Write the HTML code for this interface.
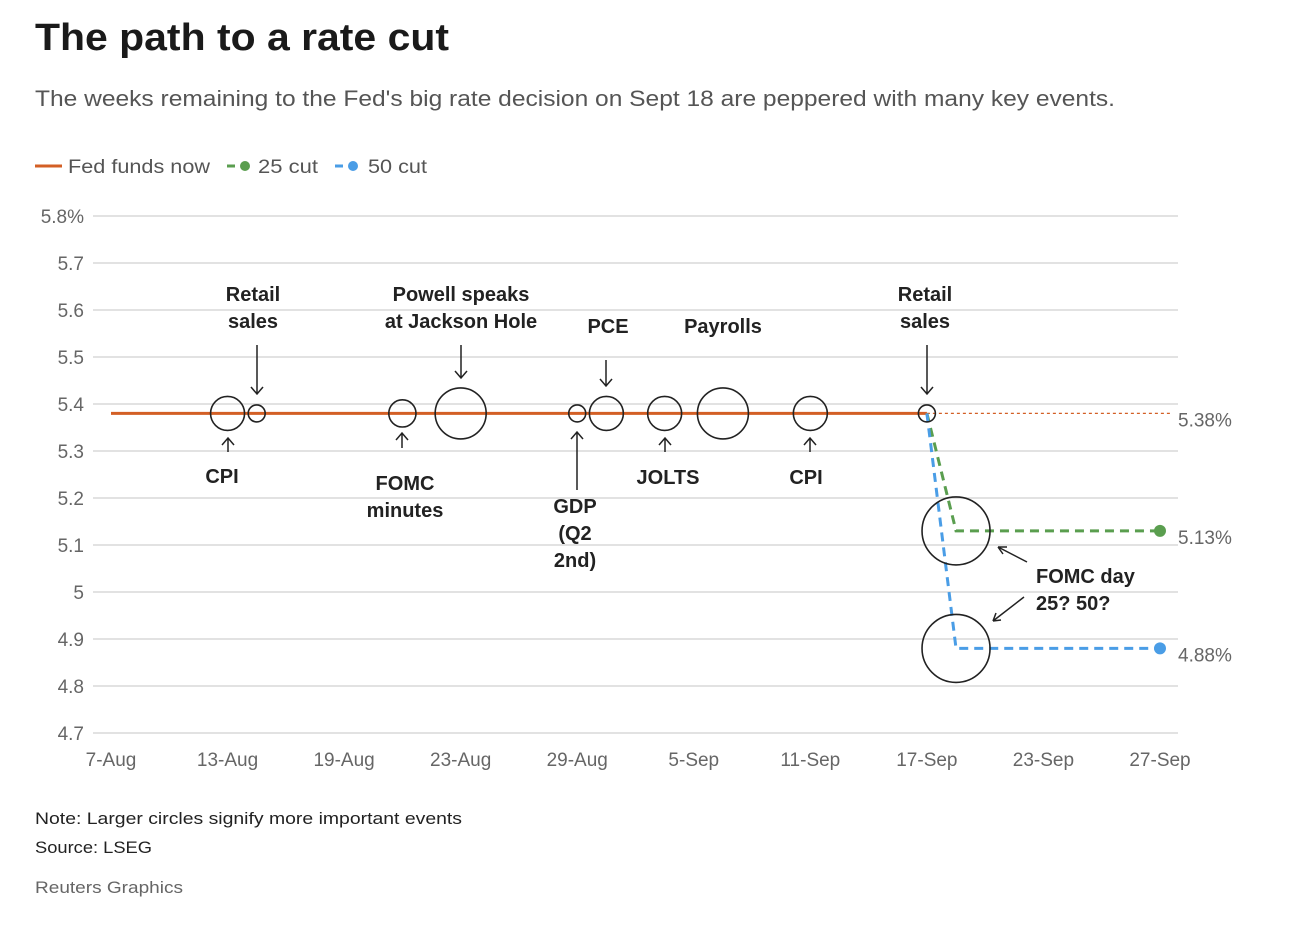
<!DOCTYPE html>
<html><head><meta charset="utf-8">
<style>
body{margin:0;background:#fff;width:1292px;height:922px;overflow:hidden;font-family:"Liberation Sans",sans-serif}
svg text{font-family:"Liberation Sans",sans-serif}
</style></head>
<body>
<svg id="c" width="1292" height="922">
<text x="35" y="50" font-size="38" font-weight="bold" fill="#1a1a1a" textLength="414" lengthAdjust="spacingAndGlyphs">The path to a rate cut</text>
<text x="35" y="106" font-size="22" fill="#555" textLength="1080" lengthAdjust="spacingAndGlyphs">The weeks remaining to the Fed's big rate decision on Sept 18 are peppered with many key events.</text>
<g>
<line x1="35" y1="166" x2="62" y2="166" stroke="#d35f25" stroke-width="3"/>
<text x="68" y="173" font-size="19" fill="#555" textLength="142" lengthAdjust="spacingAndGlyphs">Fed funds now</text>
<line x1="227" y1="166" x2="235" y2="166" stroke="#5a9e4f" stroke-width="3"/>
<circle cx="245" cy="166" r="5" fill="#5a9e4f"/>
<text x="258" y="173" font-size="19" fill="#555" textLength="60" lengthAdjust="spacingAndGlyphs">25 cut</text>
<line x1="335" y1="166" x2="343" y2="166" stroke="#4a9de6" stroke-width="3"/>
<circle cx="353" cy="166" r="5" fill="#4a9de6"/>
<text x="368" y="173" font-size="19" fill="#555" textLength="59" lengthAdjust="spacingAndGlyphs">50 cut</text>
</g>
<g id="plot"></g>
<text x="35" y="824" font-size="17" fill="#222" textLength="427" lengthAdjust="spacingAndGlyphs">Note: Larger circles signify more important events</text>
<text x="35" y="853" font-size="17" fill="#222" textLength="117" lengthAdjust="spacingAndGlyphs">Source: LSEG</text>
<text x="35" y="893" font-size="17" fill="#666" textLength="148" lengthAdjust="spacingAndGlyphs">Reuters Graphics</text>
</svg>
<script>
const yTicks=[5.8,5.7,5.6,5.5,5.4,5.3,5.2,5.1,5.0,4.9,4.8,4.7];
const yTickLabels=["5.8%","5.7","5.6","5.5","5.4","5.3","5.2","5.1","5","4.9","4.8","4.7"];
const xTickIdx=[0,4,8,12,16,20,24,28,32,36];
const xTickLabels=["7-Aug","13-Aug","19-Aug","23-Aug","29-Aug","5-Sep","11-Sep","17-Sep","23-Sep","27-Sep"];
const fedNow=5.38, cut25=5.13, cut50=4.88;
const fedEndIdx=28, fomcIdx=29, lastIdx=36;
const eventNames=["CPI","Retail sales","FOMC minutes","Powell speaks","GDP","PCE","JOLTS","Payrolls","CPI","Retail sales"];
const eventIdx=[4,5,10,12,16,17,19,21,24,28];
const eventSize=[2,1,1.6,3,1,2,2,3,2,1];
const NS="http://www.w3.org/2000/svg";
const g=document.getElementById('plot');
const X=i=>111+i*(1049/36);
const Y=v=>216+(5.8-v)*470;
function el(t,a,p){const e=document.createElementNS(NS,t);for(const k in a)e.setAttribute(k,a[k]);(p||g).appendChild(e);return e;}
yTicks.forEach((v,i)=>{
 const l=el('line',{x1:93,x2:1178,y1:Y(v),y2:Y(v),stroke:'#d0d0d0','stroke-width':1.3});
 
 
 const t=el('text',{x:84,y:Y(v)+7,'text-anchor':'end','font-size':19,fill:'#666'});t.textContent=yTickLabels[i];
 
 
});
xTickIdx.forEach((d,i)=>{
 const t=el('text',{x:X(d),y:766,'text-anchor':'middle','font-size':19,fill:'#666'});t.textContent=xTickLabels[i];
 
 
});
let e=el('line',{x1:X(0),x2:X(fedEndIdx),y1:Y(fedNow),y2:Y(fedNow),stroke:'#d35f25','stroke-width':3});


e=el('line',{x1:X(fedEndIdx),x2:1172,y1:Y(fedNow),y2:Y(fedNow),stroke:'#d35f25','stroke-width':1.3,'stroke-dasharray':'3 3'});


e=el('polyline',{points:`${X(fedEndIdx)},${Y(fedNow)} ${X(fomcIdx)},${Y(cut25)} ${X(lastIdx)},${Y(cut25)}`,fill:'none',stroke:'#5a9e4f','stroke-width':3,'stroke-dasharray':'9 6'});


e=el('polyline',{points:`${X(fedEndIdx)},${Y(fedNow)} ${X(fomcIdx)},${Y(cut50)} ${X(lastIdx)},${Y(cut50)}`,fill:'none',stroke:'#4a9de6','stroke-width':3,'stroke-dasharray':'9 6'});


e=el('circle',{cx:X(lastIdx),cy:Y(cut25),r:6,fill:'#5a9e4f'});


e=el('circle',{cx:X(lastIdx),cy:Y(cut50),r:6,fill:'#4a9de6'});


[[fedNow,'5.38%'],[cut25,'5.13%'],[cut50,'4.88%']].forEach(([v,s])=>{
 const t=el('text',{x:1178,y:Y(v)+13,'font-size':19,fill:'#666'});t.textContent=s;
 
 
});
eventIdx.forEach((d,i)=>{
 const c=el('circle',{cx:X(d),cy:Y(fedNow),r:8.5*eventSize[i],fill:'none',stroke:'#222','stroke-width':1.6});
 
 
});
[cut25,cut50].forEach(v=>{
 const c=el('circle',{cx:X(fomcIdx),cy:Y(v),r:34,fill:'none',stroke:'#222','stroke-width':1.6});
 
 
});
const ann=[
 [["Retail","sales"],253,301,257,345,394],
 [["Powell speaks","at Jackson Hole"],461,301,461,345,378],
 [["PCE"],608,333,606,360,386],
 [["Payrolls"],723,333,null],
 [["Retail","sales"],925,301,927,345,394],
 [["CPI"],222,483,228,452,438],
 [["FOMC","minutes"],405,490,402,448,433],
 [["JOLTS"],668,484,665,452,438],
 [["CPI"],806,484,810,452,438],
 [["GDP","(Q2","2nd)"],575,513,577,490,432],
 [["FOMC day","25? 50?"],1036,583,null]
];
ann.forEach(a=>{
 a[0].forEach((s,j)=>{
  const t=el('text',{x:a[1],y:a[2]+j*27,'text-anchor':a[1]==1036?'start':'middle','font-size':20,'font-weight':'bold',fill:'#222'});
  t.textContent=s;
  
  
 });
 if(a[3]!==null){
  const x=a[3],y1=a[4],y2=a[5],dir=y2>y1?1:-1;
  const p=el('path',{d:`M${x},${y1}L${x},${y2}M${x-6},${y2-7*dir}L${x},${y2}L${x+6},${y2-7*dir}`,fill:'none',stroke:'#222','stroke-width':1.5});
  
  
 }
});
e=el('path',{d:'M1027,562L998,547M998,547l9,0M998,547l5,7',fill:'none',stroke:'#222','stroke-width':1.5});


e=el('path',{d:'M1024,597L993,621M993,621l3,-8M993,621l8,-1',fill:'none',stroke:'#222','stroke-width':1.5});


</script>
</body></html>
